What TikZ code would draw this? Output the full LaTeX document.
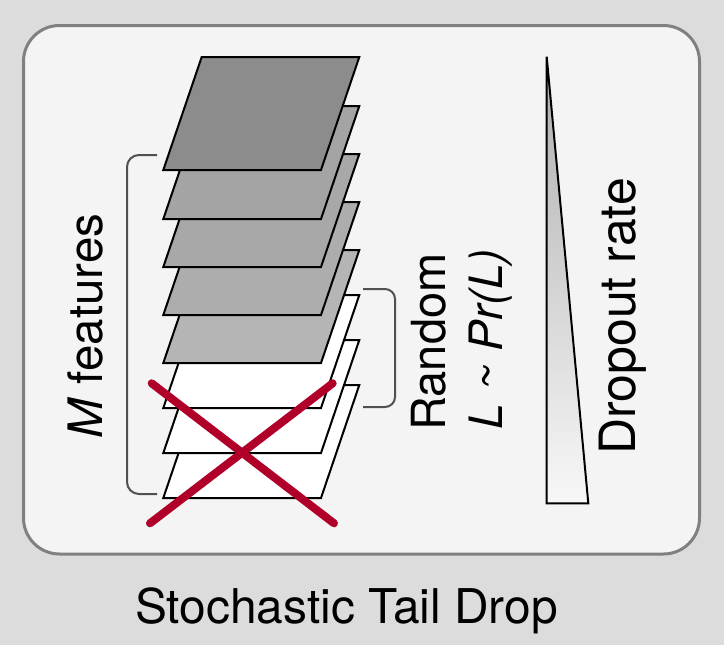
\documentclass[tikz,border=0pt]{standalone}
\usepackage{fontspec}
\setmainfont{TeX Gyre Heros}
\definecolor{bgout}{RGB}{220,220,220}
\definecolor{bgin}{RGB}{244,244,244}
\definecolor{frame}{RGB}{128,128,128}
\definecolor{Lone}{RGB}{140,140,140}
\definecolor{Ltwo}{RGB}{164,164,164}
\definecolor{Lthree}{RGB}{168,168,168}
\definecolor{Lfour}{RGB}{173,173,173}
\definecolor{Lfive}{RGB}{181,181,181}
\definecolor{xred}{RGB}{176,0,42}
\definecolor{brk}{RGB}{80,80,80}
\begin{document}
\begin{tikzpicture}[x=1pt,y=-1pt,
  layer/.style={draw=black,line width=2pt,line join=miter},
  bracket/.style={draw=brk,line width=2pt,rounded corners=12pt},
  label/.style={inner sep=0pt,font=\fontsize{47.5}{52}\selectfont,rotate=90,anchor=base},
  cross/.style={draw=xred,line width=8pt,line cap=round}]
\fill[bgout] (0,0) rectangle (724,645);
\useasboundingbox (0,0) rectangle (724,645);
\draw[draw=frame,fill=bgin,line width=3pt,rounded corners=36pt] (23.5,25.5) rectangle (699.5,554);
% left bracket
\draw[bracket] (157,155) -- (127,155) -- (127,494) -- (157,494);
% layers
\foreach \t/\c in {385/white,340/white,295/white,250/Lfive,202/Lfour,154/Lthree,106/Ltwo,57/Lone}
  \draw[layer,fill=\c] (201.7,\t) -- (359.3,\t) -- (321,\t+113) -- (163.3,\t+113) -- cycle;
% right bracket
\draw[bracket,rounded corners=10pt] (363,289) -- (395,289) -- (395,407) -- (363,407);
% red cross
\coordinate (xa) at (151.7,383.3);
\coordinate (xb) at (334,523.3);
\coordinate (xc) at (332.7,383.3);
\coordinate (xd) at (150,523.3);
\draw[cross] (xa) -- (xb);
\draw[cross] (xc) -- (xd);
% triangle
\shade[top color=black!32,bottom color=white!97!black] (546.7,56.7) -- (546.7,503.3) -- (588.3,503.3) -- cycle;
\draw[line width=2pt,line join=miter] (546.7,56.7) -- (546.7,503.3) -- (588.3,503.3) -- cycle;
% texts
\node[label] (mf) at (102,326) {\textit{M} features};
\node[label,font=\fontsize{47}{52}\selectfont] (rnd) at (445,342) {Random};
\node[label,font=\fontsize{46}{52}\selectfont] (lpr) at (502,339) {\textit{L \textasciitilde{} Pr(L)}};
\node[label,font=\fontsize{50}{54}\selectfont] (dr) at (635,316.5) {Dropout rate};
\node[inner sep=0pt,anchor=base,font=\fontsize{47.9}{52}\selectfont] (title) at (346.5,623) {Stochastic Tail Drop};
\end{tikzpicture}
\end{document}
